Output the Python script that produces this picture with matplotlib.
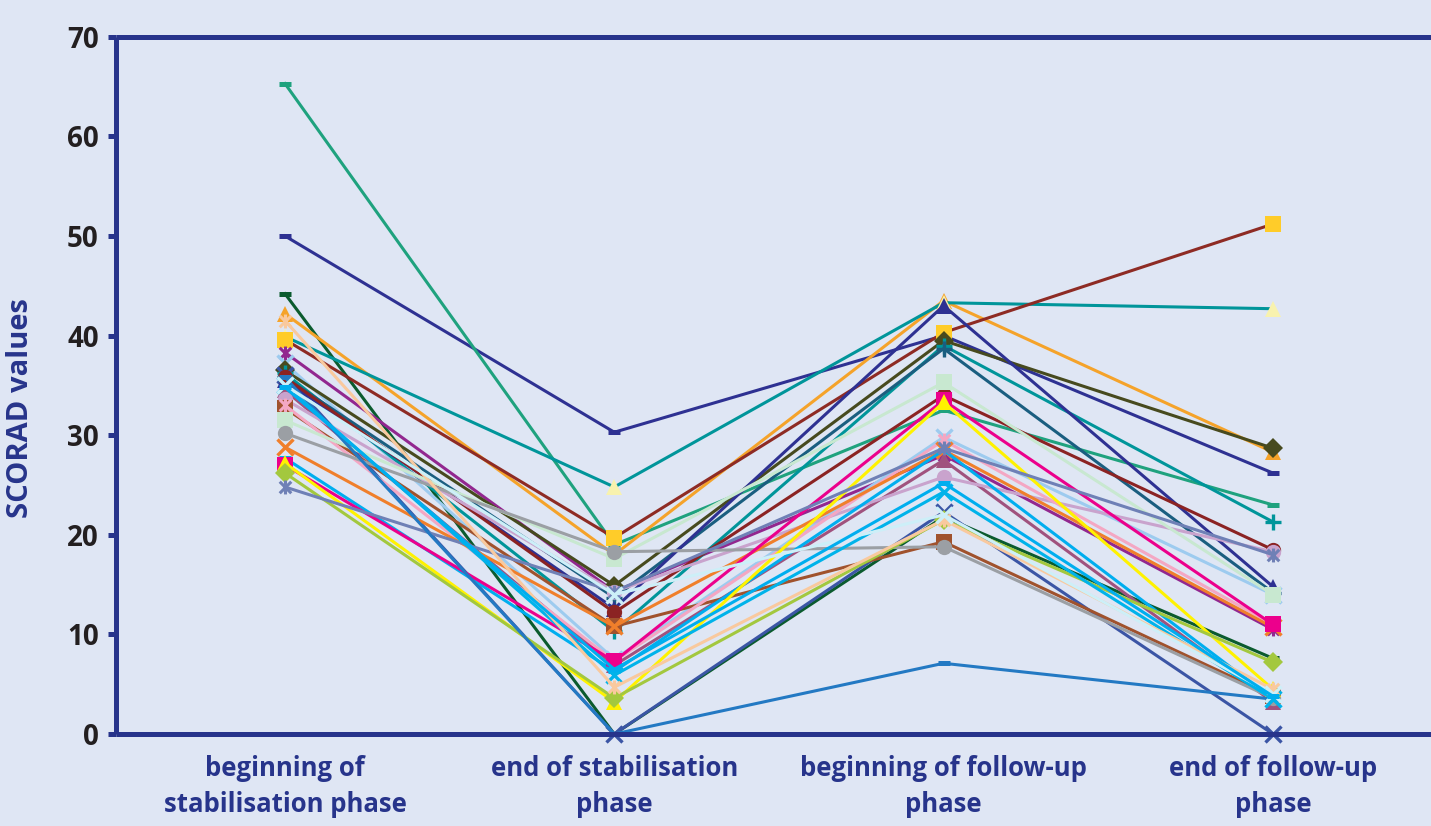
import matplotlib
matplotlib.use("Agg")
import matplotlib.pyplot as plt
from matplotlib.path import Path

categories = ["beginning of\nstabilisation phase", "end of stabilisation\nphase",
              "beginning of follow-up\nphase", "end of follow-up\nphase"]
y_ticks = [0, 10, 20, 30, 40, 50, 60, 70]

# SCORAD values per patient: [begin stab., end stab., begin follow-up, end follow-up]
p01 = [50.0, 30.3, 40.0, 26.2]
p02 = [65.3, 19.0, 32.5, 23.0]
p03 = [44.2, 0.0, 21.8, 7.6]
p04 = [42.2, 18.0, 43.5, 28.3]
p05 = [39.9, 24.8, 43.3, 42.7]
p06 = [39.6, 19.7, 40.3, 51.2]
p07 = [38.3, 14.3, 28.0, 10.5]
p08 = [37.2, 7.5, 29.8, 14.0]
p09 = [36.5, 14.9, 39.5, 28.7]
p10 = [36.0, 0.0, 22.3, 0.0]
p11 = [36.2, 10.3, 39.0, 21.3]
p12 = [35.8, 13.7, 38.7, 14.2]
p13 = [35.5, 12.6, 43.0, 14.8]
p14 = [35.8, 12.2, 34.0, 18.5]
p15 = [34.5, 6.9, 27.5, 3.2]
p16 = [33.6, 14.3, 25.8, 18.3]
p17 = [32.7, 10.8, 19.3, 3.8]
p18 = [33.0, 7.3, 29.5, 11.0]
p19 = [31.5, 17.6, 35.3, 14.0]
p20 = [30.2, 18.3, 18.8, 3.6]
p21 = [28.8, 10.8, 28.5, 10.7]
p22 = [27.7, 6.3, 28.5, 3.5]
p23 = [27.0, 7.3, 33.5, 11.0]
p24 = [27.2, 3.2, 33.3, 4.5]
p25 = [26.2, 3.6, 21.5, 7.2]
p26 = [24.8, 14.3, 28.7, 18.0]
p27 = [35.8, 0.0, 7.1, 3.5]
p28 = [35.0, 5.9, 24.3, 3.5]
p29 = [41.5, 4.7, 21.5, 4.5]
p30 = [35.0, 14.0, 22.0, 4.0]
p31 = [34.8, 6.5, 25.2, 3.8]

patients = [p01, p02, p03, p04, p05, p06, p07, p08, p09, p10, p11, p12, p13, p14, p15,
            p16, p17, p18, p19, p20, p21, p22, p23, p24, p25, p26, p27, p28, p29, p30, p31]

ASTER = Path([(-1, -1), (1, 1), (-1, 1), (1, -1), (0, -1.2), (0, 1.2)],
             [Path.MOVETO, Path.LINETO, Path.MOVETO, Path.LINETO, Path.MOVETO, Path.LINETO])

# style per patient: (line colour, marker, marker colour)
styles = [
    ("#2E3192", "_", "#2E3192"),
    ("#1FA27E", "_", "#1FA27E"),
    ("#0B5B2E", "_", "#0B5B2E"),
    ("#F5A32A", "^", "#F5A32A"),
    ("#00959A", "^", "#F8F2AE"),
    ("#8E2B24", "s", "#FFCC29"),
    ("#92278F", "A", "#92278F"),
    ("#9DCBEF", "x", "#9DCBEF"),
    ("#474A1E", "D", "#474A1E"),
    ("#3B55A5", "x", "#3B55A5"),
    ("#00959A", "+", "#00959A"),
    ("#1A5E80", "+", "#1A5E80"),
    ("#2E3192", "^", "#2E3192"),
    ("#8B2323", "o", "#8B2323"),
    ("#A0527E", "^", "#A0527E"),
    ("#C9A3CD", "o", "#C9A3CD"),
    ("#A0522D", "s", "#A0522D"),
    ("#F4A7C3", "A", "#F4A7C3"),
    ("#C8E8D0", "s", "#C8E8D0"),
    ("#9B9FA4", "o", "#9B9FA4"),
    ("#F07F2B", "x", "#F07F2B"),
    ("#00AEEF", "_", "#00AEEF"),
    ("#EC008C", "s", "#EC008C"),
    ("#FFF200", "^", "#FFF200"),
    ("#A3C83E", "D", "#A3C83E"),
    ("#6F80B6", "A", "#6F80B6"),
    ("#2379C3", "_", "#2379C3"),
    ("#00B3EA", "x", "#00B3EA"),
    ("#F9C99E", "A", "#F9C99E"),
    ("#CDEFF8", "x", "#CDEFF8"),
    ("#00AEEF", "_", "#00AEEF"),
]

BG = "#DFE6F4"
NAVY = "#27348B"
W, H = 1431, 826

fig = plt.figure(figsize=(W / 100, H / 100), dpi=100, facecolor=BG)
ax = fig.add_axes([115.5 / W, 92 / H, (1440 - 115.5) / W, (734 - 36.8) / H])
ax.set_facecolor(BG)

x = list(range(len(categories)))
for vals, (lc, mk, mc) in zip(patients, styles):
    kw = dict(color=lc, lw=2.2, clip_on=False, solid_joinstyle="round")
    if mk == "_":
        kw.update(marker="_", ms=9, mew=3.6, mec=mc)
    elif mk in ("x", "+"):
        kw.update(marker=mk, ms=11, mew=2.4, mec=mc)
    elif mk == "A":
        kw.update(marker=ASTER, ms=10, mew=2.2, mec=mc, mfc="none")
    elif mk == "^":
        kw.update(marker="^", ms=12, mew=0, mfc=mc)
    elif mk == "D":
        kw.update(marker="D", ms=10, mew=0, mfc=mc)
    else:
        kw.update(marker=mk, ms=11, mew=0, mfc=mc)
    ax.plot(x, vals, **kw)

ax.set_xlim(-(285 - 115.5) / 329.3, (1440 - 285) / 329.3)
ax.set_ylim(0, 70)
ax.set_yticks(y_ticks)
ax.set_yticklabels([str(t) for t in y_ticks], fontsize=20, fontweight="bold",
                   color="#231F20", family="Open Sans")
ax.set_xticks(x)
ax.set_xticklabels(categories, fontsize=18.5, fontweight="bold", color=NAVY,
                   family="Open Sans", linespacing=1.45)
ax.tick_params(axis="y", direction="out", length=6, width=3.6, color=NAVY, pad=6)
ax.tick_params(axis="x", length=0, pad=15)

for side in ("left", "top", "bottom"):
    ax.spines[side].set_color(NAVY)
    ax.spines[side].set_linewidth(3.6)
    ax.spines[side].set_capstyle("butt")
ax.spines["right"].set_visible(False)

ax.set_ylabel("SCORAD values", fontsize=21, fontweight="bold", color=NAVY,
              family="Open Sans")
ax.yaxis.set_label_coords(-0.061, 0.467)

fig.savefig("out.png", dpi=100, facecolor=BG)
